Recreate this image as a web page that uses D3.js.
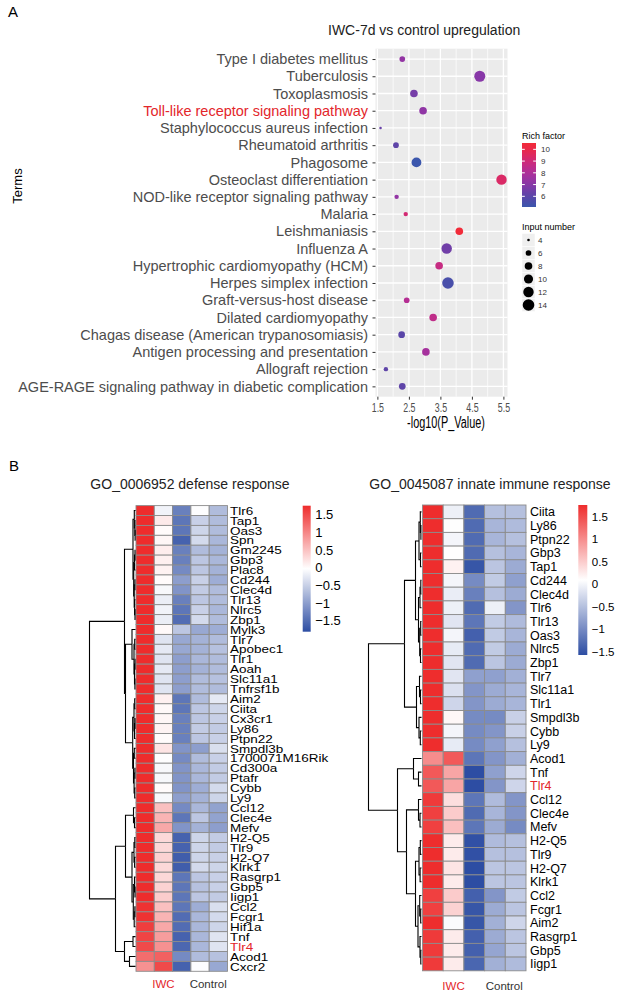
<!DOCTYPE html>
<html>
<head>
<meta charset="utf-8">
<script src="https://cdn.jsdelivr.net/npm/d3@7"></script>
<style>
    body { margin: 0; background: #fff; }
    svg { display: block; font-family: "Liberation Sans", Arial, sans-serif; }
</style>
</head>
<body>
<div id="chart"></div>
<script>
// ---------- panel A : KEGG terms ----------
let terms = ['Type I diabetes mellitus', 'Tuberculosis', 'Toxoplasmosis', 'Toll-like receptor signaling pathway',
    'Staphylococcus aureus infection', 'Rheumatoid arthritis', 'Phagosome', 'Osteoclast differentiation',
    'NOD-like receptor signaling pathway', 'Malaria', 'Leishmaniasis', 'Influenza A',
    'Hypertrophic cardiomyopathy (HCM)', 'Herpes simplex infection', 'Graft-versus-host disease',
    'Dilated cardiomyopathy', 'Chagas disease (American trypanosomiasis)', 'Antigen processing and presentation',
    'Allograft rejection', 'AGE-RAGE signaling pathway in diabetic complication'];
let termLogP = [2.29, 4.75, 2.66, 2.95, 1.60, 2.09, 2.74, 5.44, 2.11, 2.40, 4.10, 3.70, 3.46, 3.74, 2.43, 3.27, 2.27, 3.04, 1.77, 2.29];
let termCount = [6, 13, 8, 8, 4, 6, 11, 12, 5, 5, 8, 12, 8, 14, 6, 8, 7, 8, 5, 7];
let termRich = [7.3, 7.0, 6.6, 7.2, 6.3, 6.1, 5.1, 9.4, 7.3, 9.1, 10.5, 6.5, 8.7, 5.5, 8.2, 8.5, 6.0, 7.8, 6.1, 6.1];
let highlightTerm = 'Toll-like receptor signaling pathway';
let xTicks = [1.5, 2.5, 3.5, 4.5, 5.5];
let xMinor = [2, 3, 4, 5];
let richTicks = [6, 7, 8, 9, 10];
let countTicks = [4, 6, 8, 10, 12, 14];

// ---------- panel B : heatmaps (row z-scores, IWC x2, Control x3) ----------
let groupLabels = ['IWC', 'Control'];
let zTicks = [1.5, 1, 0.5, 0, -0.5, -1, -1.5];
let highlightGene = 'Tlr4';

let defenseGenes = ['Tlr6', 'Tap1', 'Oas3', 'Spn', 'Gm2245', 'Gbp3', 'Plac8', 'Cd244', 'Clec4d', 'Tlr13', 'Nlrc5', 'Zbp1',
    'Mylk3', 'Tlr7', 'Apobec1', 'Tlr1', 'Aoah', 'Slc11a1', 'Tnfrsf1b', 'Aim2', 'Ciita', 'Cx3cr1', 'Ly86', 'Ptpn22',
    'Smpdl3b', '1700071M16Rik', 'Cd300a', 'Ptafr', 'Cybb', 'Ly9', 'Ccl12', 'Clec4e', 'Mefv', 'H2-Q5', 'Tlr9', 'H2-Q7',
    'Klrk1', 'Rasgrp1', 'Gbp5', 'Iigp1', 'Ccl2', 'Fcgr1', 'Hif1a', 'Tnf', 'Tlr4', 'Acod1', 'Cxcr2'];
let defenseZ = [
    [1.75, -0.15, -1.3, -0.05, -0.7], [1.75, 0.15, -1.4, -0.5, -0.7], [1.75, 0.0, -1.4, -0.45, -0.7],
    [1.75, 0.05, -1.6, -0.4, -0.75], [1.75, 0.12, -1.3, -0.7, -0.8], [1.75, 0.1, -1.3, -0.6, -0.75],
    [1.75, 0.08, -1.2, -0.6, -0.8], [1.75, 0.0, -1.0, -0.5, -0.85], [1.75, -0.1, -1.1, -0.55, -0.7],
    [1.75, -0.2, -1.3, -0.6, -0.7], [1.75, -0.15, -1.4, -0.5, -0.75], [1.75, -0.2, -1.5, -0.4, -0.7],
    [1.75, 0.02, -0.6, -0.9, -0.85], [1.75, -0.3, -0.9, -0.8, -0.7], [1.75, -0.25, -0.9, -0.8, -0.65],
    [1.75, -0.3, -1.0, -0.75, -0.7], [1.75, -0.25, -1.0, -0.8, -0.7], [1.75, -0.3, -1.0, -0.7, -0.65],
    [1.75, -0.3, -1.0, -0.7, -0.7], [1.75, 0.1, -1.4, -0.7, -0.25], [1.75, 0.03, -1.4, -0.6, -0.45],
    [1.75, 0.05, -1.3, -0.6, -0.5], [1.75, 0.07, -1.3, -0.55, -0.55], [1.75, 0.0, -1.3, -0.6, -0.5],
    [1.75, 0.2, -1.1, -1.0, -0.35], [1.75, -0.05, -1.2, -0.7, -0.5], [1.75, -0.1, -1.1, -0.75, -0.55],
    [1.75, -0.1, -1.1, -0.75, -0.55], [1.75, 0.0, -1.1, -0.85, -0.4], [1.75, -0.1, -1.0, -0.8, -0.45],
    [1.75, 0.5, -1.2, -0.75, -0.95], [1.75, 0.6, -1.4, -0.6, -0.95], [1.75, 0.7, -1.1, -0.8, -1.0],
    [1.75, 0.3, -1.6, -0.45, -0.55], [1.75, 0.3, -1.6, -0.45, -0.55], [1.75, 0.35, -1.65, -0.45, -0.5],
    [1.75, 0.3, -1.65, -0.4, -0.45], [1.75, 0.3, -1.4, -0.6, -0.5], [1.75, 0.35, -1.4, -0.65, -0.5],
    [1.75, 0.4, -1.4, -0.6, -0.55], [1.7, 0.5, -1.4, -0.85, -0.35], [1.7, 0.6, -1.5, -0.75, -0.4],
    [1.6, 0.7, -1.5, -0.75, -0.45], [1.55, 0.8, -1.6, -0.75, -0.3], [1.5, 0.9, -1.55, -0.75, -0.3],
    [1.2, 1.3, -1.2, -0.7, -0.65], [0.9, 1.5, -1.6, -0.05, -0.9]];
// [height, left, right], leaves are row indices
let defenseTree = [46,
    [11,
        [2.5,
            [1.2, 0, [0.6, 1, [0.4, 2, 3]]],
            [1.8, [1.0, [0.5, 4, 5], 6], [1.3, [0.6, 7, 8], [0.9, 9, [0.5, 10, 11]]]]],
        [10,
            [3.5, 12, [1.5, [0.8, 13, 14], [1.0, [0.5, 15, 16], [0.6, 17, 18]]]],
            [2.8, [1.5, [0.8, 19, 20], [1.0, [0.5, 21, 22], 23]], [2.0, [1.2, 24, 25], [1.4, [0.6, 26, 27], [0.8, 28, 29]]]]]],
    [20,
        [10,
            [2, 30, [1, 31, 32]],
            [3.5, [1.5, [0.7, 33, 34], [0.9, 35, 36]], [2.2, [1.0, 37, [0.5, 38, 39]], [1.3, [0.6, 40, 41], 42]]]],
        [11, [2.5, 43, 44], [6, 45, 46]]]];

let innateGenes = ['Ciita', 'Ly86', 'Ptpn22', 'Gbp3', 'Tap1', 'Cd244', 'Clec4d', 'Tlr6', 'Tlr13', 'Oas3', 'Nlrc5', 'Zbp1',
    'Tlr7', 'Slc11a1', 'Tlr1', 'Smpdl3b', 'Cybb', 'Ly9', 'Acod1', 'Tnf', 'Tlr4', 'Ccl12', 'Clec4e', 'Mefv', 'H2-Q5',
    'Tlr9', 'H2-Q7', 'Klrk1', 'Ccl2', 'Fcgr1', 'Aim2', 'Rasgrp1', 'Gbp5', 'Iigp1'];
let innateZ = [
    [1.75, -0.05, -1.3, -0.5, -0.5], [1.75, 0.08, -1.3, -0.6, -0.55], [1.75, 0.0, -1.3, -0.6, -0.5],
    [1.75, 0.1, -1.3, -0.5, -0.6], [1.75, 0.2, -1.5, -0.45, -0.7], [1.75, 0.0, -1.0, -0.4, -0.8],
    [1.75, -0.08, -1.1, -0.5, -0.7], [1.75, -0.05, -1.3, -0.05, -0.9], [1.75, -0.15, -1.2, -0.4, -0.55],
    [1.75, 0.0, -1.4, -0.4, -0.6], [1.75, -0.1, -1.3, -0.4, -0.7], [1.75, -0.15, -1.3, -0.45, -0.7],
    [1.75, -0.15, -0.8, -0.8, -0.65], [1.75, -0.2, -0.9, -0.7, -0.6], [1.75, -0.3, -0.9, -0.7, -0.6],
    [1.75, 0.15, -1.0, -1.0, -0.35], [1.75, 0.0, -1.0, -0.9, -0.35], [1.75, -0.1, -1.0, -0.8, -0.5],
    [1.0, 1.4, -1.2, -0.9, -0.65], [1.4, 0.8, -1.6, -0.8, -0.3], [1.4, 0.8, -1.6, -0.9, -0.3],
    [1.65, 0.35, -1.2, -0.55, -0.9], [1.6, 0.5, -1.3, -0.6, -0.9], [1.6, 0.6, -1.2, -0.7, -1.0],
    [1.75, 0.25, -1.55, -0.55, -0.5], [1.75, 0.25, -1.55, -0.5, -0.5], [1.75, 0.3, -1.6, -0.45, -0.45],
    [1.75, 0.25, -1.65, -0.45, -0.45], [1.6, 0.5, -1.4, -0.9, -0.4], [1.6, 0.45, -1.5, -0.7, -0.45],
    [1.75, 0.05, -1.5, -0.65, -0.3], [1.65, 0.25, -1.4, -0.7, -0.45], [1.65, 0.25, -1.4, -0.75, -0.45],
    [1.65, 0.25, -1.35, -0.65, -0.55]];
let innateTree = [53,
    [17,
        [6,
            [2.5, [1.2, 0, [0.6, 1, 2]], [1.0, 3, 4]],
            [3, [1.5, [0.7, 5, 6], 7], [1.8, [0.8, 8, 9], [1.0, 10, 11]]]],
        [5, [2, 12, [1, 13, 14]], [2.5, 15, [1.2, 16, 17]]]],
    [24,
        [8, 18, [3, 19, 20]],
        [15,
            [3, 21, [1.5, 22, 23]],
            [6, [2.5, [1.2, 24, 25], [1.4, 26, 27]], [3.5, [1.8, 28, [0.8, 29, 30]], [1.5, 31, [0.7, 32, 33]]]]]]];

let svg = d3.select('#chart').append('svg').attr('width', 617).attr('height', 991);
svg.append('rect').attr('width', 617).attr('height', 991).attr('fill', '#fff');

svg.append('text').attr('x', 8).attr('y', 17).attr('font-size', '15px').text('A');
svg.append('text').attr('x', 9).attr('y', 470.5).attr('font-size', '15px').text('B');

renderDotplot();
renderHeatmap(defenseGenes, defenseZ, defenseTree, {
    x0: 136, x1: 227.5, y0: 505.6, y1: 971.3, leafX: 135.5, rootX: 89.5,
    labelX: 230, labelSize: 13.5, labelSY: 0.86, title: 'GO_0006952 defense response', titleX: 190,
    barX: 302.7, barW: 8, barY0: 505.7, barY1: 631.7, zMin: -1.81, zMax: 1.75, barFont: 13, id: 'g1'
});
renderHeatmap(innateGenes, innateZ, innateTree, {
    x0: 422.5, x1: 526, y0: 505, y1: 970.8, leafX: 421.5, rootX: 368.5,
    labelX: 530, labelSize: 12.5, labelSY: 1, title: 'GO_0045087 innate immune response', titleX: 490,
    barX: 578.3, barW: 9, barY0: 505, barY1: 655, zMin: -1.58, zMax: 1.76, barFont: 11.5, id: 'g2'
});

function renderDotplot() {
    let left = 375.5, right = 507.5, top = 48.7, bottom = 396.7;
    let x = d3.scaleLinear().domain([1.44, 5.63]).range([left, right]);
    let y = d3.scalePoint().domain(terms).range([top, bottom]).padding(0.6);
    let size = d3.scaleRadial().domain([4, 14]).range([1.3, 5.8]);
    let color = d3.scaleLinear().domain([5.09, 6, 7, 8, 9, 10, 10.54])
        .range(['#3B56AC', '#5A46A8', '#8838A8', '#AE2F9A', '#D02A78', '#EA294A', '#F22B38']);

    let g = svg.append('g');
    g.append('text').attr('x', 328).attr('y', 35).attr('font-size', '14px').attr('fill', '#222')
        .text('IWC-7d vs control upregulation');

    g.append('rect').attr('x', left).attr('y', top).attr('width', right - left).attr('height', bottom - top)
        .attr('fill', '#EBEBEB');
    g.selectAll('.minor').data(xMinor).enter().append('line')
        .attr('x1', x).attr('x2', x).attr('y1', top).attr('y2', bottom)
        .attr('stroke', '#fff').attr('stroke-width', 0.7);
    g.selectAll('.major').data(xTicks).enter().append('line')
        .attr('x1', x).attr('x2', x).attr('y1', top).attr('y2', bottom)
        .attr('stroke', '#fff').attr('stroke-width', 1.3);
    g.selectAll('.hgrid').data(terms).enter().append('line')
        .attr('x1', left).attr('x2', right).attr('y1', d => y(d)).attr('y2', d => y(d))
        .attr('stroke', '#fff').attr('stroke-width', 1.3);

    let ya = g.append('g').attr('transform', 'translate(' + left + ',0)')
        .call(d3.axisLeft(y).tickSize(3).tickPadding(4.5));
    ya.attr('font-family', null).attr('font-size', null);
    ya.select('.domain').remove();
    ya.selectAll('line').attr('stroke', '#333');
    ya.selectAll('text').attr('font-size', '14.5px')
        .attr('fill', d => d === highlightTerm ? '#E3262B' : '#4D4D4D');

    let xa = g.append('g').attr('transform', 'translate(0,' + bottom + ')')
        .call(d3.axisBottom(x).tickValues(xTicks).tickSize(3).tickPadding(3.5));
    xa.attr('font-family', null).attr('font-size', null);
    xa.select('.domain').remove();
    xa.selectAll('line').attr('stroke', '#333');
    xa.selectAll('text').attr('font-size', '13px').attr('fill', '#4D4D4D').attr('transform', 'scale(0.68,1)');

    g.append('text').attr('transform', 'translate(446,428) scale(0.68,1)').attr('text-anchor', 'middle')
        .attr('font-size', '16px').text('-log10(P_Value)');
    g.append('text').attr('transform', 'translate(22,186) rotate(-90)').attr('text-anchor', 'middle')
        .attr('font-size', '13px').text('Terms');

    g.selectAll('.dot').data(terms).enter().append('circle')
        .attr('cx', (d, i) => x(termLogP[i]))
        .attr('cy', d => y(d))
        .attr('r', (d, i) => size(termCount[i]))
        .attr('fill', (d, i) => color(termRich[i]));

    // legend: rich factor
    let lx = 522;
    let yR = d3.scaleLinear().domain([5.09, 10.54]).range([207, 143]);
    let grad = svg.append('defs').append('linearGradient').attr('id', 'richGrad')
        .attr('x1', 0).attr('y1', 1).attr('x2', 0).attr('y2', 0);
    grad.selectAll('stop').data(d3.range(11)).enter().append('stop')
        .attr('offset', d => d / 10)
        .attr('stop-color', d => color(5.09 + d / 10 * (10.54 - 5.09)));
    g.append('text').attr('x', lx).attr('y', 139).attr('font-size', '9px').text('Rich factor');
    g.append('rect').attr('x', lx).attr('y', 143).attr('width', 14).attr('height', 64).attr('fill', 'url(#richGrad)');
    richTicks.forEach(t => {
        g.append('line').attr('x1', lx).attr('x2', lx + 2.8).attr('y1', yR(t)).attr('y2', yR(t)).attr('stroke', '#fff');
        g.append('line').attr('x1', lx + 11.2).attr('x2', lx + 14).attr('y1', yR(t)).attr('y2', yR(t)).attr('stroke', '#fff');
        g.append('text').attr('x', lx + 19).attr('y', yR(t) + 3).attr('font-size', '8px').attr('fill', '#333').text(t);
    });

    // legend: input number
    g.append('text').attr('x', lx).attr('y', 230).attr('font-size', '9px').text('Input number');
    let keys = g.selectAll('.key').data(countTicks).enter().append('g')
        .attr('transform', (d, i) => 'translate(' + lx + ',' + (233.5 + i * 13) + ')');
    keys.append('rect').attr('width', 13).attr('height', 13).attr('fill', '#EFEFEF').attr('stroke', '#fff').attr('stroke-width', 0.5);
    keys.append('circle').attr('cx', 6.5).attr('cy', 6.5).attr('r', d => size(d)).attr('fill', '#000');
    keys.append('text').attr('x', 16).attr('y', 9.5).attr('font-size', '8px').attr('fill', '#333').text(d => d);
}

function renderHeatmap(genes, values, tree, o) {
    let cols = d3.range(values[0].length);
    let x = d3.scaleBand().domain(cols).range([o.x0, o.x1]);
    let y = d3.scaleBand().domain(d3.range(genes.length)).range([o.y0, o.y1]);
    let mid = (o.zMin + o.zMax) / 2;
    let color = d3.scaleLinear().domain([o.zMin, mid, o.zMax]).range(['#2D4DA3', '#FFFFFF', '#EE2C2C']).clamp(true);
    let g = svg.append('g');

    g.append('text').attr('x', o.titleX).attr('y', 488.5).attr('text-anchor', 'middle')
        .attr('font-size', '14px').attr('fill', '#222').text(o.title);

    let rows = g.selectAll('.row').data(values).enter().append('g')
        .attr('transform', (d, i) => 'translate(0,' + y(i) + ')');
    rows.selectAll('rect').data(d => d).enter().append('rect')
        .attr('x', (d, j) => x(j)).attr('width', x.bandwidth()).attr('height', y.bandwidth())
        .attr('fill', d => color(d)).attr('stroke', '#8C8C8C').attr('stroke-width', 0.9);

    g.selectAll('.gene').data(genes).enter().append('text')
        .attr('transform', (d, i) => 'translate(' + o.labelX + ',' + (y(i) + y.bandwidth() / 2 + o.labelSize * 0.716 * o.labelSY / 2) + ') scale(1,' + o.labelSY + ')')
        .attr('font-size', o.labelSize + 'px')
        .attr('fill', d => d === highlightGene ? '#E3262B' : '#000')
        .text(d => d);

    // dendrogram
    let xH = d3.scaleLinear().domain([0, tree[0]]).range([o.leafX, o.rootX]);
    let root = d3.hierarchy(tree, d => Array.isArray(d) ? d.slice(1) : null);
    root.eachAfter(n => {
        n.h = Array.isArray(n.data) ? n.data[0] : 0;
        n.py = n.children ? d3.mean(n.children, c => c.py) : y(n.data) + y.bandwidth() / 2;
    });
    g.selectAll('.link').data(root.links()).enter().append('path')
        .attr('d', l => 'M' + xH(l.source.h) + ',' + l.source.py + 'V' + l.target.py + 'H' + xH(l.target.h))
        .attr('fill', 'none').attr('stroke', '#000').attr('stroke-width', 1.1);

    // group labels
    g.append('text').attr('x', x(1) + x.bandwidth() / 2).attr('y', o.id === 'g1' ? 988 : 990)
        .attr('text-anchor', 'middle').attr('font-size', '11.5px').attr('fill', '#E3262B').text(groupLabels[0]);
    g.append('text').attr('x', x(4) - 1).attr('y', o.id === 'g1' ? 988 : 990)
        .attr('text-anchor', 'middle').attr('font-size', '11.5px').attr('fill', '#333').text(groupLabels[1]);

    // colour key
    let yb = d3.scaleLinear().domain([o.zMin, o.zMax]).range([o.barY1, o.barY0]);
    let grad = svg.append('defs').append('linearGradient').attr('id', 'grad' + o.id)
        .attr('x1', 0).attr('y1', 1).attr('x2', 0).attr('y2', 0);
    grad.selectAll('stop').data(d3.range(21)).enter().append('stop')
        .attr('offset', d => d / 20)
        .attr('stop-color', d => color(o.zMin + d / 20 * (o.zMax - o.zMin)));
    g.append('rect').attr('x', o.barX).attr('y', o.barY0).attr('width', o.barW).attr('height', o.barY1 - o.barY0)
        .attr('fill', 'url(#grad' + o.id + ')');
    g.selectAll('.ztick').data(zTicks).enter().append('text')
        .attr('x', o.barX + o.barW + 4.5).attr('y', d => yb(d) + o.barFont * 0.36)
        .attr('font-size', o.barFont + 'px').text(d => d3.format('~g')(d));
}
</script>
</body>
</html>
